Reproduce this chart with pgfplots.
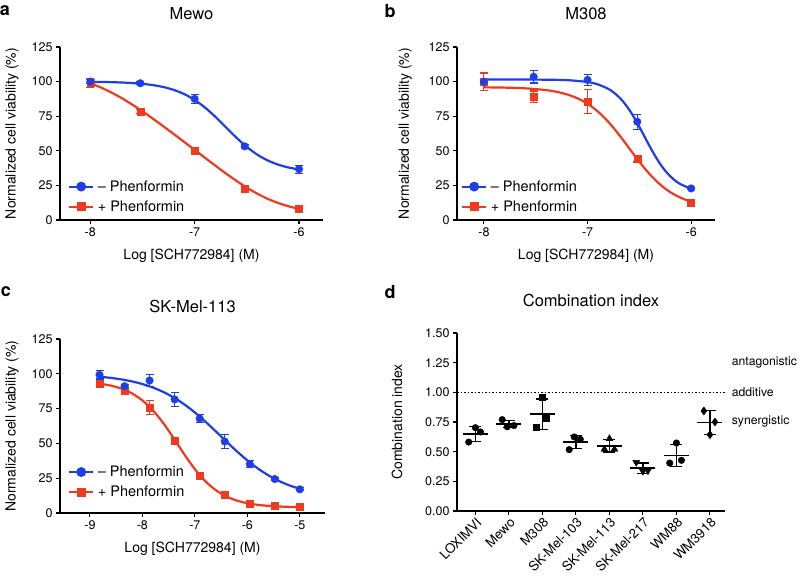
\documentclass[border=0pt]{standalone}
\usepackage{fontspec}
\setmainfont{TeX Gyre Heros}
\usepackage{pgfplots}
\pgfplotsset{compat=1.18}
\definecolor{cblue}{RGB}{30,62,232}
\definecolor{cred}{RGB}{240,58,30}

\pgfplotsset{
  gp/.style={
    scale only axis,
    axis x line*=bottom, axis y line*=left,
    axis line style={line width=1.1pt},
    every tick/.style={line width=1.1pt, black},
    tick align=outside, major tick length=4pt,
    tick label style={font=\fontsize{12.5}{14}\selectfont},
    /pgf/number format/assume math mode=true,
    label style={font=\fontsize{14}{16}\selectfont},
    title style={font=\fontsize{16.5}{18}\selectfont, anchor=center, at={(axis description cs:0.5,1)}, yshift=27pt},
    clip=false,
  },
  via/.style={
    gp,
    ymin=0, ymax=125, ytick={0,25,50,75,100,125},
    ylabel={Normalized cell viability (\%)},
    xlabel={Log [SCH772984] (M)},
    xlabel style={at={(axis description cs:0.5,0)}, anchor=center, yshift=-36pt},
    legend cell align=left,
    legend style={draw=none, fill=none, font=\fontsize{14.5}{16}\selectfont, row sep=6pt, inner sep=0pt,
      nodes={inner ysep=1pt, inner xsep=3.5pt}},
    legend image code/.code={\draw[mark repeat=2,mark phase=2,#1] plot coordinates {(0pt,0pt) (12pt,0pt) (24pt,0pt)};},
  },
  bcurve/.style={cblue, line width=2.2pt, smooth, no marks, forget plot},
  rcurve/.style={cred, line width=2.2pt, smooth, no marks, forget plot},
  bpts/.style={cblue, only marks, mark=*, mark size=3.8pt, forget plot,
    error bars/.cd, y dir=both, y explicit,
    error bar style={line width=1.1pt}, error mark options={rotate=90, mark size=4pt, line width=1.1pt}},
  rpts/.style={cred, only marks, mark=square*, mark size=3.5pt, forget plot,
    error bars/.cd, y dir=both, y explicit,
    error bar style={line width=1.1pt}, error mark options={rotate=90, mark size=4pt, line width=1.1pt}},
  cipts/.style={black, only marks, mark size=3.3pt, forget plot},
}

\begin{document}
\begin{tikzpicture}
\useasboundingbox (0,0) rectangle (800pt,576pt);

\node[font=\bfseries\fontsize{18}{20}\selectfont] at (5pt,565pt) {a};
\node[font=\bfseries\fontsize{18}{20}\selectfont] at (390pt,565pt) {b};
\node[font=\bfseries\fontsize{18}{20}\selectfont] at (6pt,284pt) {c};
\node[font=\bfseries\fontsize{18}{20}\selectfont] at (390pt,284pt) {d};

% ---------------- a: Mewo ----------------
\begin{axis}[via, at={(60pt,356pt)}, anchor=south west, width=263pt, height=173pt,
  xmin=-8.29, xmax=-5.77, xtick={-8,-7,-6}, title={Mewo},
  ylabel style={at={(axis description cs:-0.1825,0.5)}, anchor=center},
  legend style={at={(axis description cs:0.03,0.235)}, anchor=north west}]
\addlegendimage{cblue, line width=2.2pt, mark=*, mark size=3.8pt}
\addlegendentry{-- Phenformin}
\addlegendimage{cred, line width=2.2pt, mark=square*, mark size=3.5pt}
\addlegendentry{+ Phenformin}
\addplot[bcurve] coordinates {(-8,99.84) (-7.9,99.74) (-7.8,99.59) (-7.7,99.35) (-7.6,98.97) (-7.5,98.38) (-7.4,97.47) (-7.3,96.08) (-7.2,94.0) (-7.1,90.99) (-7.0,86.76) (-6.9,81.21) (-6.8,74.47) (-6.7,67.0) (-6.6,59.53) (-6.5,52.79) (-6.4,47.25) (-6.3,43.03) (-6.2,40.0) (-6.1,37.92) (-6.0,36.53)};
\addplot[rcurve] coordinates {(-8,98.8) (-7.9,95.8) (-7.8,92.2) (-7.7,88.1) (-7.6,83.5) (-7.5,78.5) (-7.4,73.2) (-7.3,67.7) (-7.2,62.1) (-7.1,56.4) (-7.0,50.7) (-6.9,44.9) (-6.8,39.2) (-6.7,33.6) (-6.6,28.3) (-6.5,23.4) (-6.4,19.0) (-6.3,15.3) (-6.2,12.3) (-6.1,9.9) (-6.0,8.0)};
\addplot[rpts] coordinates {(-8,99) +- (0,3.5) (-7.52,78.6) +- (0,1.5) (-7,50.4) +- (0,1.5) (-6.52,22.8) +- (0,1.5) (-6,7.9) +- (0,1.5)};
\addplot[bpts] coordinates {(-8,100) +- (0,1.5) (-7.52,98.8) +- (0,1) (-7,87.5) +- (0,3.5) (-6.52,53.2) +- (0,1.5) (-6,36.7) +- (0,2.8)};
\end{axis}

% ---------------- b: M308 ----------------
\begin{axis}[via, at={(457pt,356pt)}, anchor=south west, width=258pt, height=173pt,
  xmin=-8.26, xmax=-5.77, xtick={-8,-7,-6}, title={M308},
  ylabel style={at={(axis description cs:-0.2,0.5)}, anchor=center},
  legend style={at={(axis description cs:0.015,0.235)}, anchor=north west}]
\addlegendimage{cblue, line width=2.2pt, mark=*, mark size=3.8pt}
\addlegendentry{-- Phenformin}
\addlegendimage{cred, line width=2.2pt, mark=square*, mark size=3.5pt}
\addlegendentry{+ Phenformin}
\addplot[bcurve] coordinates {(-8,101.5) (-7.5,101.44) (-7.2,101.04) (-7.0,99.69) (-6.9,97.97) (-6.8,94.75) (-6.75,92.27) (-6.7,89.04) (-6.65,84.94) (-6.6,79.88) (-6.55,73.96) (-6.5,67.30) (-6.45,60.25) (-6.4,53.19) (-6.35,46.55) (-6.3,40.61) (-6.25,35.56) (-6.2,31.46) (-6.15,28.23) (-6.1,25.75) (-6.0,22.53)};
\addplot[rcurve] coordinates {(-8,95.86) (-7.8,95.65) (-7.6,95.13) (-7.4,93.85) (-7.3,92.63) (-7.2,90.77) (-7.1,88.0) (-7.0,83.99) (-6.9,78.34) (-6.8,70.94) (-6.7,61.95) (-6.6,52.0) (-6.5,42.04) (-6.4,33.06) (-6.3,25.67) (-6.2,20.04) (-6.1,16.0) (-6.0,13.22)};
\addplot[rpts] coordinates {(-8,100) +- (0,6.2) (-7.52,89.2) +- (0,4) (-7,85.6) +- (0,8.5) (-6.52,44.4) +- (0,2.5) (-6,12.7) +- (0,1)};
\addplot[bpts] coordinates {(-8,100) +- (0,1) (-7.52,103.5) +- (0,4.5) (-7,101.2) +- (0,4) (-6.52,71) +- (0,5.5) (-6,22.8) +- (0,1)};
\end{axis}

% ---------------- c: SK-Mel-113 ----------------
\begin{axis}[via, at={(60pt,63pt)}, anchor=south west, width=265pt, height=174pt,
  xmin=-9.57, xmax=-4.52, xtick={-9,-8,-7,-6,-5}, title={SK-Mel-113},
  ylabel style={at={(axis description cs:-0.181,0.5)}, anchor=center},
  legend style={at={(axis description cs:0.03,0.277)}, anchor=north west}]
\addlegendimage{cblue, line width=2.2pt, mark=*, mark size=3.8pt}
\addlegendentry{-- Phenformin}
\addlegendimage{cred, line width=2.2pt, mark=square*, mark size=3.5pt}
\addlegendentry{+ Phenformin}
\addplot[bcurve] coordinates {(-8.82,97.91) (-8.6,97.05) (-8.4,95.98) (-8.2,94.54) (-8.0,92.64) (-7.8,90.14) (-7.6,86.92) (-7.4,82.91) (-7.2,77.99) (-7.0,72.21) (-6.8,65.67) (-6.6,58.62) (-6.4,51.38) (-6.2,44.33) (-6.0,37.79) (-5.8,32.0) (-5.6,27.09) (-5.4,23.07) (-5.2,19.86) (-5.0,17.36)};
\addplot[rcurve] coordinates {(-8.82,92.96) (-8.6,91.49) (-8.4,89.33) (-8.2,85.95) (-8.0,80.91) (-7.8,73.78) (-7.6,64.48) (-7.4,53.52) (-7.2,42.07) (-7.0,31.52) (-6.8,22.85) (-6.6,16.38) (-6.4,11.89) (-6.2,8.92) (-6.0,7.03) (-5.8,5.85) (-5.6,5.12) (-5.4,4.68) (-5.2,4.41) (-5.0,4.25)};
\addplot[rpts] coordinates {(-8.817,92.8) +- (0,2.2) (-8.34,88) +- (0,2.5) (-7.863,75.6) +- (0,5) (-7.385,52.2) +- (0,1) (-6.908,26.5) +- (0,1) (-6.431,13.2) +- (0,1) (-5.954,6.5) +- (0,1) (-5.477,5) +- (0,1) (-5,4.3) +- (0,1)};
\addplot[bpts] coordinates {(-8.817,99.3) +- (0,3) (-8.34,91.1) +- (0,1) (-7.863,95.2) +- (0,4.5) (-7.385,81.6) +- (0,5) (-6.908,67.9) +- (0,3) (-6.431,51.4) +- (0,5) (-5.954,35.2) +- (0,2.5) (-5.477,24.4) +- (0,1) (-5,17) +- (0,1)};
\end{axis}

% ---------------- d: Combination index ----------------
\begin{axis}[gp, at={(457pt,65pt)}, anchor=south west, width=268pt, height=178pt,
  xmin=-0.55, xmax=7.45, ymin=0, ymax=1.5,
  ytick={0,0.25,0.5,0.75,1,1.25,1.5},
  yticklabel style={/pgf/number format/.cd, fixed, fixed zerofill, precision=2},
  xtick={0,1,2,3,4,5,6,7},
  xticklabels={LOXIMVI,Mewo,M308,SK-Mel-103,SK-Mel-113,SK-Mel-217,WM88,WM3918},
  xticklabel style={rotate=45, anchor=north east, inner sep=1pt, font=\fontsize{13.2}{14}\selectfont},
  title={Combination index},
  ylabel={Combination index},
  ylabel style={at={(axis description cs:-0.224,0.5)}, anchor=center}]
\addplot[black, line width=1.6pt, dash pattern=on 1.6pt off 1.9pt, forget plot] coordinates {(-0.55,1) (7.45,1)};
\addplot[cipts, mark=*] coordinates {(-0.2,0.581) (0,0.702) (0.15,0.666)};
\addplot[cipts, mark=*] coordinates {(0.8,0.77) (0.95,0.71) (1.15,0.72)};
\addplot[cipts, mark=square*, mark size=3pt] coordinates {(2.0,0.955) (2.1,0.78) (1.8,0.71)};
\addplot[cipts, mark=*] coordinates {(2.8,0.517) (2.95,0.624) (3.13,0.604)};
\addplot[cipts, mark=triangle*, mark size=4pt] coordinates {(4.0,0.61) (3.85,0.52) (4.15,0.52)};
\addplot[cipts, mark=triangle*, mark size=4pt, mark options={rotate=180}] coordinates {(4.8,0.41) (5.0,0.335) (5.15,0.34)};
\addplot[cipts, mark=*] coordinates {(5.8,0.404) (6.0,0.573) (6.15,0.427)};
\addplot[cipts, mark=diamond*, mark size=4pt] coordinates {(6.82,0.843) (7.15,0.75) (7.0,0.643)};
\addplot[black, only marks, mark=-, mark size=12.5pt, mark options={line width=1.8pt}, forget plot,
  error bars/.cd, y dir=both, y explicit,
  error bar style={line width=1.3pt}, error mark options={rotate=90, mark size=6pt, line width=1.3pt}]
  coordinates {(0,0.65) +- (0,0.062) (1,0.733) +- (0,0.032) (2,0.815) +- (0,0.129) (3,0.582) +- (0,0.057)
               (4,0.55) +- (0,0.052) (5,0.36) +- (0,0.044) (6,0.468) +- (0,0.092) (7,0.745) +- (0,0.1)};
\node[anchor=west, font=\fontsize{12.2}{14}\selectfont] at (axis cs:7.55,1.25) {antagonistic};
\node[anchor=west, font=\fontsize{12.2}{14}\selectfont] at (axis cs:7.55,1.0) {additive};
\node[anchor=west, font=\fontsize{12.2}{14}\selectfont] at (axis cs:7.55,0.75) {synergistic};
\end{axis}
\end{tikzpicture}
\end{document}
